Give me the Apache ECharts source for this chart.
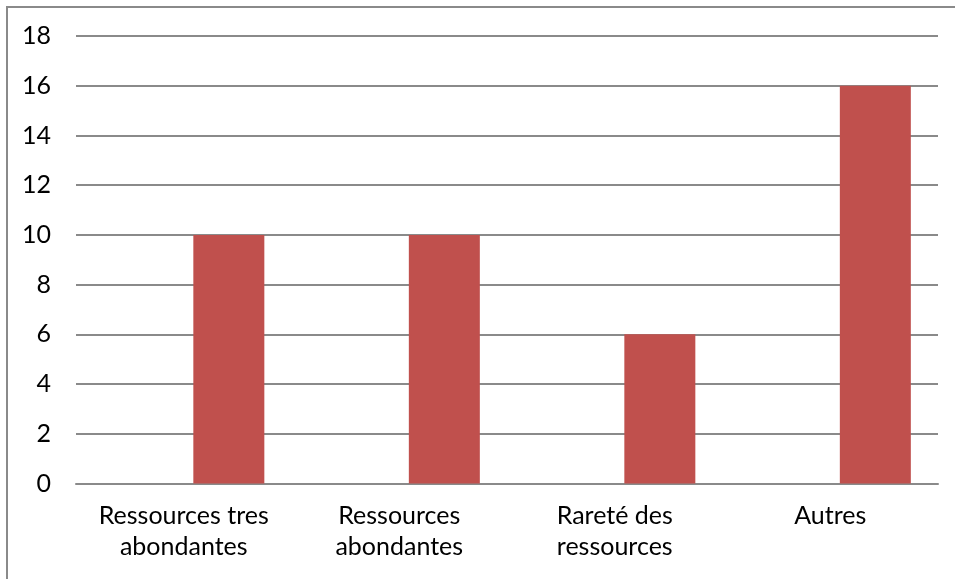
<!DOCTYPE html>
<html>
<head>
<meta charset="utf-8">
<script src="https://cdn.jsdelivr.net/npm/echarts@6/dist/echarts.min.js"></script>
<style>
html,body{margin:0;padding:0;background:#fff;}
#chart{width:955px;height:579px;}
</style>
</head>
<body>
<div id="chart"></div>
<script>
var categories = ['Ressources tres\nabondantes', 'Ressources\nabondantes', 'Rareté des\nressources', 'Autres'];
var placeholderValues = [];
var values = [10, 10, 6, 16];
var yTicks = {min: 0, max: 18, interval: 2};

var chart = echarts.init(document.getElementById('chart'), null, {renderer: 'canvas'});
var font = 'Lato, "Liberation Sans", sans-serif';
chart.setOption({
  animation: false,
  backgroundColor: '#ffffff',
  graphic: [{
    type: 'rect',
    shape: {x: 7, y: 7, width: 1000, height: 1000},
    style: {fill: 'none', stroke: '#8a8a8a', lineWidth: 2},
    silent: true
  }],
  grid: {left: 76, right: 17, top: 36, bottom: 95.5, containLabel: false},
  xAxis: {
    type: 'category',
    data: categories,
    axisLine: {show: true, lineStyle: {color: '#8a8a8a', width: 2}},
    axisTick: {show: false},
    axisLabel: {color: '#000', fontFamily: font, fontSize: 25, lineHeight: 31, margin: 17, interval: 0}
  },
  yAxis: {
    type: 'value',
    min: yTicks.min, max: yTicks.max, interval: yTicks.interval,
    axisLine: {show: false},
    axisTick: {show: false},
    splitLine: {show: true, lineStyle: {color: '#8a8a8a', width: 2}},
    axisLabel: {color: '#000', fontFamily: font, fontSize: 25, margin: 25}
  },
  series: [
    {type: 'bar', data: placeholderValues, barWidth: 71, barGap: '27%', itemStyle: {color: '#4F81BD'}},
    {type: 'bar', data: values, barWidth: 71, barGap: '27%', itemStyle: {color: '#C0504D'}}
  ]
});
</script>
</body>
</html>
